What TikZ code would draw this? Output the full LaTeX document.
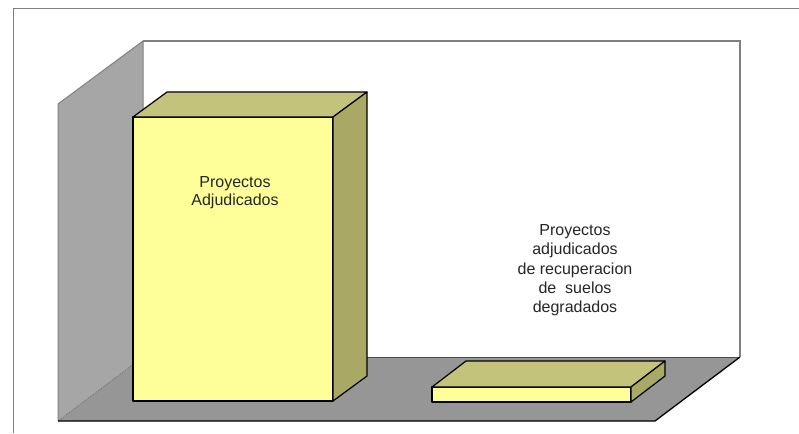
\documentclass[tikz,border=0pt]{standalone}
\usepackage{fontspec}
\setmainfont{Liberation Sans}
\definecolor{frontc}{HTML}{FFFF99}
\definecolor{topc}{HTML}{C3C37B}
\definecolor{sidec}{HTML}{A9A965}
\definecolor{lwall}{HTML}{A6A6A6}
\definecolor{floorc}{HTML}{969696}
\definecolor{edgec}{HTML}{808080}
\tikzset{
  bar/.style={draw=black, line width=1.2pt, line join=round},
  wall/.style={draw=edgec, line width=1pt},
  lbl/.style={inner sep=0pt, align=center, anchor=north, text=black!85}
}
\begin{document}
\begin{tikzpicture}[x=1pt,y=-1pt]
\useasboundingbox (0,0) rectangle (799,433);
% outer frame
\draw[edgec, line width=1pt] (13,433) -- (13,9) -- (799,9);
% coordinates of the chart box
\coordinate (bwTL) at (143,41);
\coordinate (bwTR) at (740,41);
\coordinate (bwBR) at (740,357);
\coordinate (bwBL) at (143,357);
\coordinate (lwT) at (58,104);
\coordinate (lwB) at (58,421);
\coordinate (flR) at (655,421);
% back wall
\fill[white] (bwTL) -- (bwTR) -- (bwBR) -- (bwBL) -- cycle;
\draw[edgec, line width=1.4pt] (bwTL) -- (bwTR) -- (bwBR);
% left wall
\fill[lwall] (lwT) -- (bwTL) -- (bwBL) -- (lwB) -- cycle;
\draw[wall] (lwB) -- (lwT) -- (bwTL) -- (bwBL);
% floor
\fill[floorc] (lwB) -- (bwBL) -- (bwBR) -- (flR) -- cycle;
\draw[black!60, line width=0.6pt, dashed, dash pattern=on 1pt off 1pt] (lwB) -- (bwBL);
\draw[black!70, line width=0.6pt] (bwBL) -- (bwBR);
\draw[black, line width=1.3pt] (lwB) -- (flR) -- (bwBR);
% bar 1
\coordinate (a1) at (133,117); \coordinate (a2) at (333,117);
\coordinate (a3) at (333,401); \coordinate (a4) at (133,401);
\coordinate (a5) at (167,92);  \coordinate (a6) at (367,92);
\coordinate (a7) at (367,376);
\filldraw[bar, fill=frontc] (a1) -- (a2) -- (a3) -- (a4) -- cycle;
\filldraw[bar, fill=topc] (a1) -- (a5) -- (a6) -- (a2) -- cycle;
\filldraw[bar, fill=sidec] (a2) -- (a6) -- (a7) -- (a3) -- cycle;
% bar 2
\coordinate (b1) at (432,387); \coordinate (b2) at (631,387);
\coordinate (b3) at (631,402); \coordinate (b4) at (432,402);
\coordinate (b5) at (466,361); \coordinate (b6) at (665,361);
\coordinate (b7) at (665,376);
\filldraw[bar, fill=frontc] (b1) -- (b2) -- (b3) -- (b4) -- cycle;
\filldraw[bar, fill=topc] (b1) -- (b5) -- (b6) -- (b2) -- cycle;
\filldraw[bar, fill=sidec] (b2) -- (b6) -- (b7) -- (b3) -- cycle;
% labels
\node[lbl, font=\fontsize{16}{17.3}\selectfont] (t1) at (235,176.5) {Proyectos\\Adjudicados};
\node[lbl, font=\fontsize{16}{19.2}\selectfont] (t2) at (575,224.5) {Proyectos\\adjudicados\\de recuperacion\\de~ suelos\\degradados};
\end{tikzpicture}
\end{document}
